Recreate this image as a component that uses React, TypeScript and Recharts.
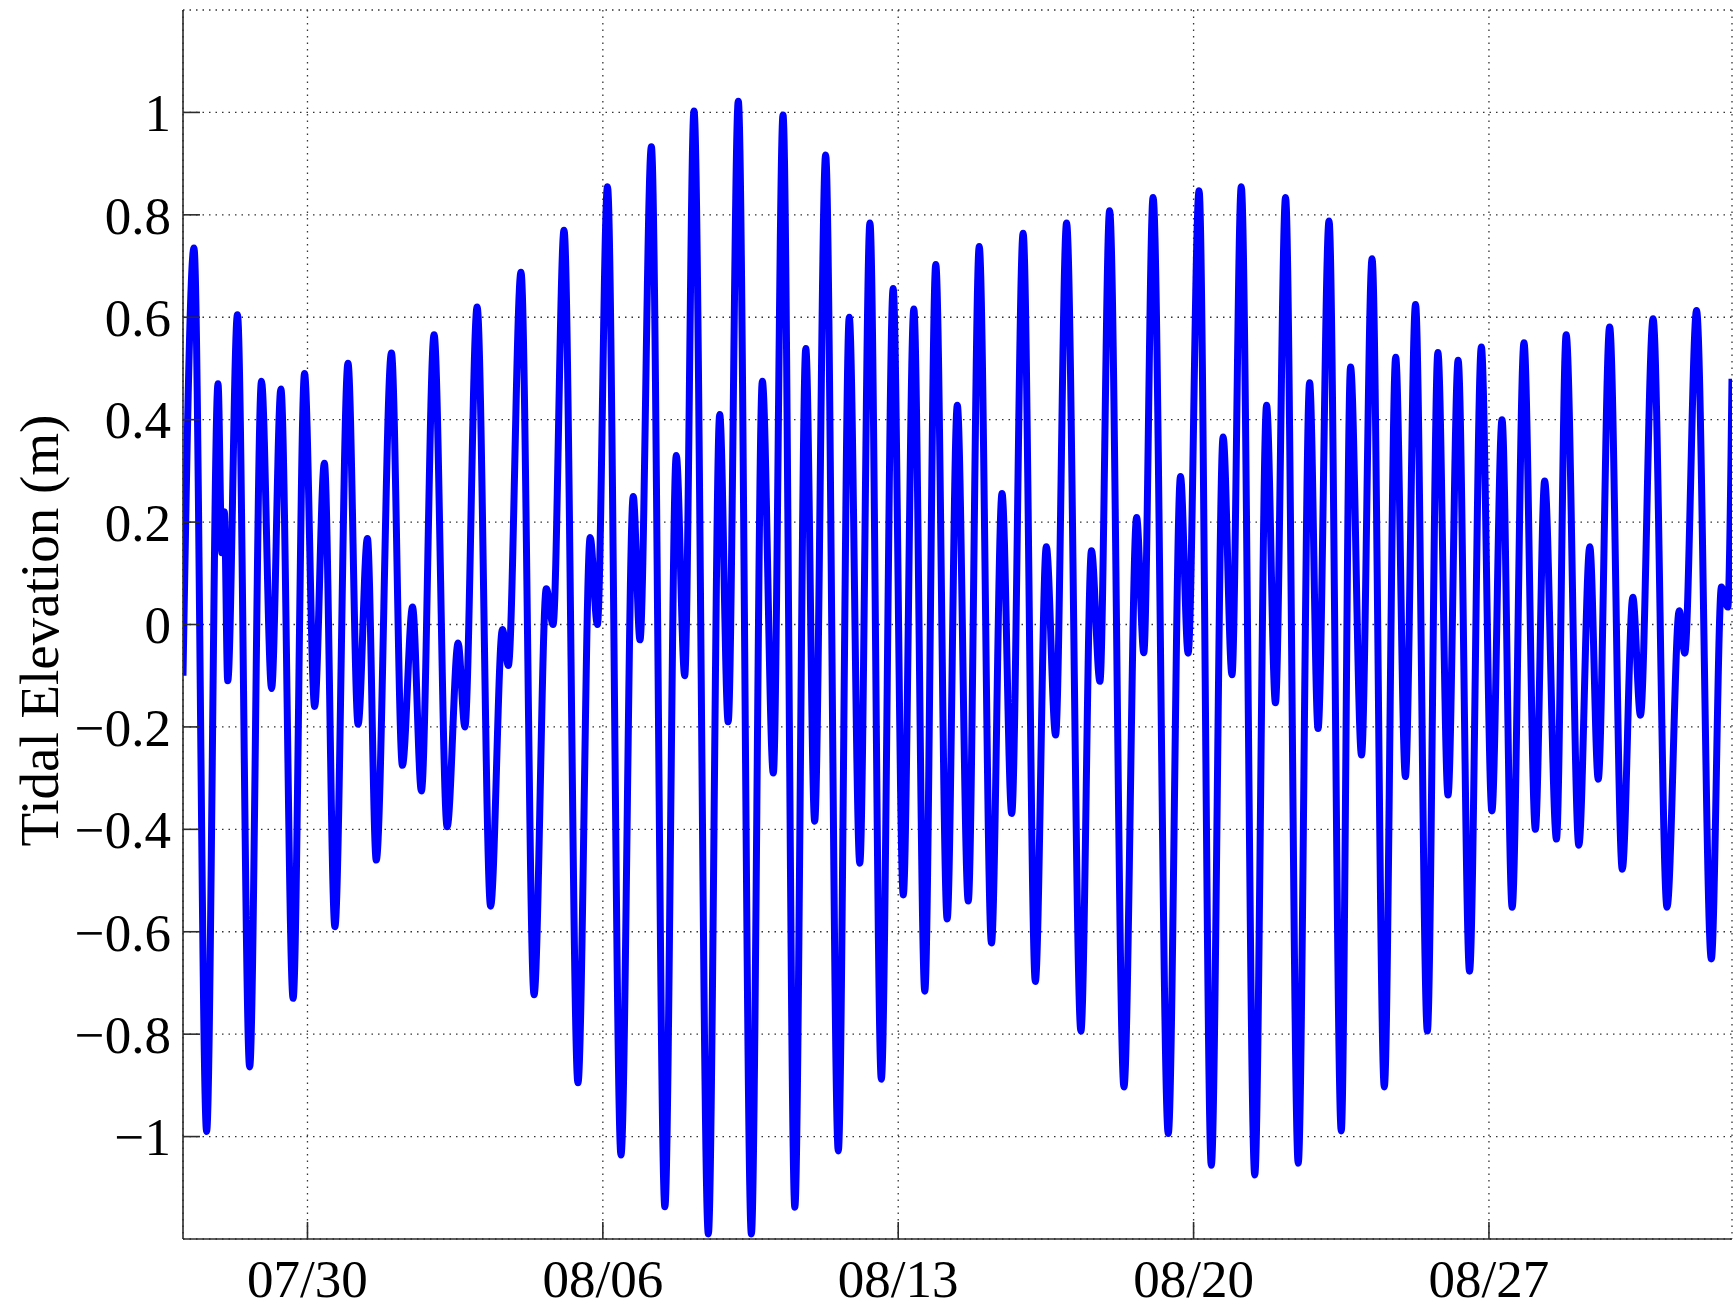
import { CartesianGrid, Label, Line, LineChart, XAxis, YAxis } from 'recharts';

// Turning points of the record: days after 07/27 00:00 and elevation in metres
const sampleDay = [
  0.05, 0.31, 0.61, 0.88, 0.97, 1.03, 1.11, 1.34, 1.63, 1.91, 2.15, 2.37, 2.66, 2.93, 3.17, 3.4, 3.65, 3.96,
  4.2, 4.42, 4.63, 4.99, 5.25, 5.49, 5.7, 6.0, 6.31, 6.57, 6.73, 7.02, 7.34, 7.62, 7.76, 8.06, 8.37, 8.66,
  8.82, 9.08, 9.41, 9.7, 9.87, 10.11, 10.43, 10.72, 10.88, 11.15, 11.47, 11.74, 11.94, 12.16, 12.5, 12.77,
  12.97, 13.21, 13.52, 13.78, 14.04, 14.27, 14.55, 14.81, 15.02, 15.28, 15.58, 15.84, 16.09, 16.33, 16.6,
  16.88, 17.12, 17.37, 17.63, 17.89, 18.16, 18.4, 18.66, 18.92, 19.21, 19.46, 19.69, 19.96, 20.25, 20.51,
  20.73, 20.99, 21.33, 21.58, 21.78, 22.01, 22.35, 22.65, 22.82, 23.04, 23.4, 23.69, 23.87, 24.13, 24.42,
  24.7, 24.91, 25.13, 25.45, 25.73, 25.94, 26.18, 26.48, 26.75, 26.95, 27.21, 27.5, 27.72, 27.98, 28.23,
  28.52, 28.79, 29.02, 29.26, 29.54, 29.79, 30.03, 30.27, 30.54, 30.82, 31.07, 31.31, 31.55, 31.83, 32.1,
  32.32, 32.6, 32.83, 33.13, 33.39, 33.59, 33.86, 34.16, 34.41, 34.59, 34.89, 35.22, 35.51, 35.64, 35.92,
  36.27, 36.51, 36.66, 36.76,
];
const elevation = [
  -0.1, 0.735, -0.99, 0.47, 0.14, 0.22, -0.11, 0.605, -0.864, 0.475, -0.125, 0.46, -0.73, 0.49, -0.16, 0.315,
  -0.59, 0.51, -0.195, 0.168, -0.46, 0.53, -0.275, 0.034, -0.325, 0.566, -0.395, -0.036, -0.2, 0.62, -0.55,
  -0.01, -0.08, 0.688, -0.723, 0.07, 0.0, 0.77, -0.895, 0.17, 0.0, 0.855, -1.036, 0.25, -0.03, 0.933, -1.137,
  0.33, -0.1, 1.003, -1.19, 0.41, -0.19, 1.022, -1.19, 0.475, -0.29, 0.995, -1.138, 0.539, -0.384, 0.917,
  -1.028, 0.6, -0.466, 0.784, -0.888, 0.656, -0.528, 0.616, -0.716, 0.703, -0.575, 0.428, -0.54, 0.738,
  -0.622, 0.256, -0.369, 0.764, -0.697, 0.152, -0.216, 0.784, -0.794, 0.144, -0.111, 0.808, -0.903, 0.209,
  -0.055, 0.834, -0.994, 0.289, -0.056, 0.847, -1.056, 0.366, -0.098, 0.855, -1.075, 0.428, -0.153, 0.834,
  -1.052, 0.472, -0.203, 0.788, -0.989, 0.503, -0.255, 0.714, -0.903, 0.522, -0.297, 0.625, -0.794, 0.531,
  -0.333, 0.516, -0.677, 0.542, -0.364, 0.4, -0.552, 0.55, -0.4, 0.28, -0.419, 0.566, -0.431, 0.152, -0.302,
  0.581, -0.478, 0.053, -0.177, 0.597, -0.552, 0.027, -0.056, 0.613, -0.653, 0.073, 0.034, 0.48,
];

const dayTicks = [3, 10, 17, 24, 31];
const dayTickLabels = ['07/30', '08/06', '08/13', '08/20', '08/27'];
const levelTicks = [-1, -0.8, -0.6, -0.4, -0.2, 0, 0.2, 0.4, 0.6, 0.8, 1];

const tideData = sampleDay.map((t, i) => ({ t, level: elevation[i] }));

const font = '"Liberation Serif", "Times New Roman", serif';
const axisColor = '#2b2b2b';
const tickFont = { fontFamily: font, fontSize: 53, fill: '#000' };

const formatDay = (d: number) => dayTickLabels[dayTicks.indexOf(d)] ?? '';
const formatLevel = (v: number) => (v < 0 ? `\u2212${Math.abs(v)}` : String(v));

function YLabel({ viewBox }: any) {
  const cx = viewBox.x + 39;
  const cy = viewBox.y + viewBox.height / 2 + 6;
  return (
    <text
      x={cx}
      y={cy}
      transform={`rotate(-90, ${cx}, ${cy})`}
      textAnchor="middle"
      dominantBaseline="central"
      fontFamily={font}
      fontSize={55}
      fill="#000"
    >
      Tidal Elevation (m)
    </text>
  );
}

export default function App() {
  return (
    <div style={{ position: 'absolute', left: 0, top: 0, background: '#fff' }}>
      <LineChart
        width={1733}
        height={1307}
        data={tideData}
        margin={{ top: 10, right: 1, bottom: 0, left: 0 }}
      >
        <CartesianGrid stroke="#333" strokeWidth={1.3} strokeDasharray="1.5 5" />
        <XAxis
          dataKey="t"
          type="number"
          domain={[0.05, 36.76]}
          ticks={dayTicks}
          tickFormatter={formatDay}
          allowDataOverflow
          height={68}
          tickSize={-17}
          tickMargin={37}
          tick={tickFont}
          axisLine={{ stroke: axisColor, strokeWidth: 1.6 }}
          tickLine={{ stroke: axisColor, strokeWidth: 1.6 }}
        />
        <XAxis
          xAxisId="top"
          orientation="top"
          dataKey="t"
          type="number"
          domain={[0.05, 36.76]}
          ticks={dayTicks}
          allowDataOverflow
          height={0}
          tickSize={-17}
          tick={false}
          axisLine={{ stroke: axisColor, strokeWidth: 1.6 }}
          tickLine={{ stroke: axisColor, strokeWidth: 1.6 }}
        />
        <YAxis
          type="number"
          domain={[-1.2, 1.2]}
          ticks={levelTicks}
          tickFormatter={formatLevel}
          allowDataOverflow
          width={183}
          tickSize={-17}
          tickMargin={29}
          tick={tickFont}
          axisLine={{ stroke: axisColor, strokeWidth: 1.6 }}
          tickLine={{ stroke: axisColor, strokeWidth: 1.6 }}
        >
          <Label content={YLabel} />
        </YAxis>
        <YAxis
          yAxisId="right"
          orientation="right"
          type="number"
          domain={[-1.2, 1.2]}
          ticks={levelTicks}
          allowDataOverflow
          width={0}
          tickSize={-17}
          tick={false}
          axisLine={{ stroke: axisColor, strokeWidth: 1.6 }}
          tickLine={{ stroke: axisColor, strokeWidth: 1.6 }}
        />
        <Line
          type="monotone"
          dataKey="level"
          stroke="#0000ff"
          strokeWidth={7}
          dot={false}
          isAnimationActive={false}
        />
      </LineChart>
    </div>
  );
}
